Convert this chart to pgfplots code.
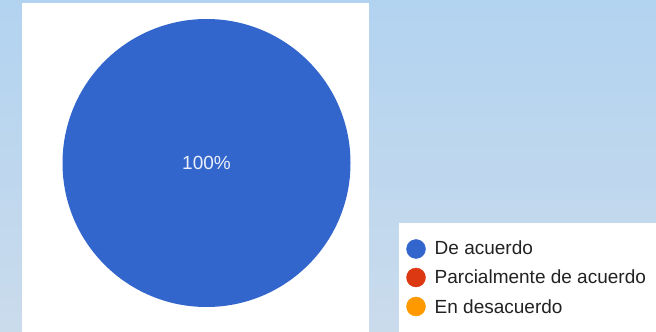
\documentclass[border=0pt]{standalone}
\usepackage{pgfplots}
\pgfplotsset{compat=1.18}
\usepackage{pgfplotstable}
\usepackage{fontspec}
\setmainfont{Liberation Sans}
\definecolor{cA}{HTML}{3366CC}
\definecolor{cB}{HTML}{DC3912}
\definecolor{cC}{HTML}{FF9900}
\definecolor{skyTop}{RGB}{178,211,240}
\definecolor{skyBot}{RGB}{202,219,236}
\definecolor{legtxt}{HTML}{222222}
\pgfplotstableread{
label value
A 100
B 0
C 0
}\piedata
\pgfplotstablegetelem{0}{value}\of\piedata \let\vA\pgfplotsretval
\pgfplotstablegetelem{1}{value}\of\piedata \let\vB\pgfplotsretval
\pgfplotstablegetelem{2}{value}\of\piedata \let\vC\pgfplotsretval
\begin{document}
\begin{tikzpicture}
\begin{axis}[width=656bp,height=332bp,scale only axis,
  xmin=0,xmax=656,ymin=0,ymax=332,axis lines=none,ticks=none,clip=false]
\shade[top color=skyTop,bottom color=skyBot] (axis cs:0,0) rectangle (axis cs:656,332);
\fill[white] (axis cs:22,0) rectangle (axis cs:369,329);
\fill[white] (axis cs:399,0) rectangle (axis cs:656,109);
% pie slices from the table values (clockwise from 12 o'clock)
\fill[cA] (axis cs:206.5,169) -- ++(90:144bp) arc[start angle=90,end angle={90-3.6*\vA},radius=144bp] -- cycle;
\ifdim\vB pt>0pt
\fill[cB] (axis cs:206.5,169) -- ++({90-3.6*\vA}:144bp) arc[start angle={90-3.6*\vA},end angle={90-3.6*(\vA+\vB)},radius=144bp] -- cycle;
\fi
\ifdim\vC pt>0pt
\fill[cC] (axis cs:206.5,169) -- ++({90-3.6*(\vA+\vB)}:144bp) arc[start angle={90-3.6*(\vA+\vB)},end angle={90-3.6*(\vA+\vB+\vC)},radius=144bp] -- cycle;
\fi
\node[text=white!90!cA,font=\fontsize{19bp}{23bp}\selectfont,inner sep=0pt,anchor=base] at (axis cs:206.5,162) {100\%};
% legend
\addplot[only marks,mark=*,mark size=9.5bp,color=cA] coordinates {(416,83)};
\addplot[only marks,mark=*,mark size=9.5bp,color=cB] coordinates {(416,54.5)};
\addplot[only marks,mark=*,mark size=9.5bp,color=cC] coordinates {(416,25.5)};
\node[anchor=base west,inner sep=0pt,text=legtxt,font=\fontsize{19bp}{23bp}\selectfont] at (axis cs:434.5,77) {De acuerdo};
\node[anchor=base west,inner sep=0pt,text=legtxt,font=\fontsize{19bp}{23bp}\selectfont] at (axis cs:434.5,48) {Parcialmente de acuerdo};
\node[anchor=base west,inner sep=0pt,text=legtxt,font=\fontsize{19bp}{23bp}\selectfont] at (axis cs:434.5,19) {En desacuerdo};
\end{axis}
\end{tikzpicture}
\end{document}
